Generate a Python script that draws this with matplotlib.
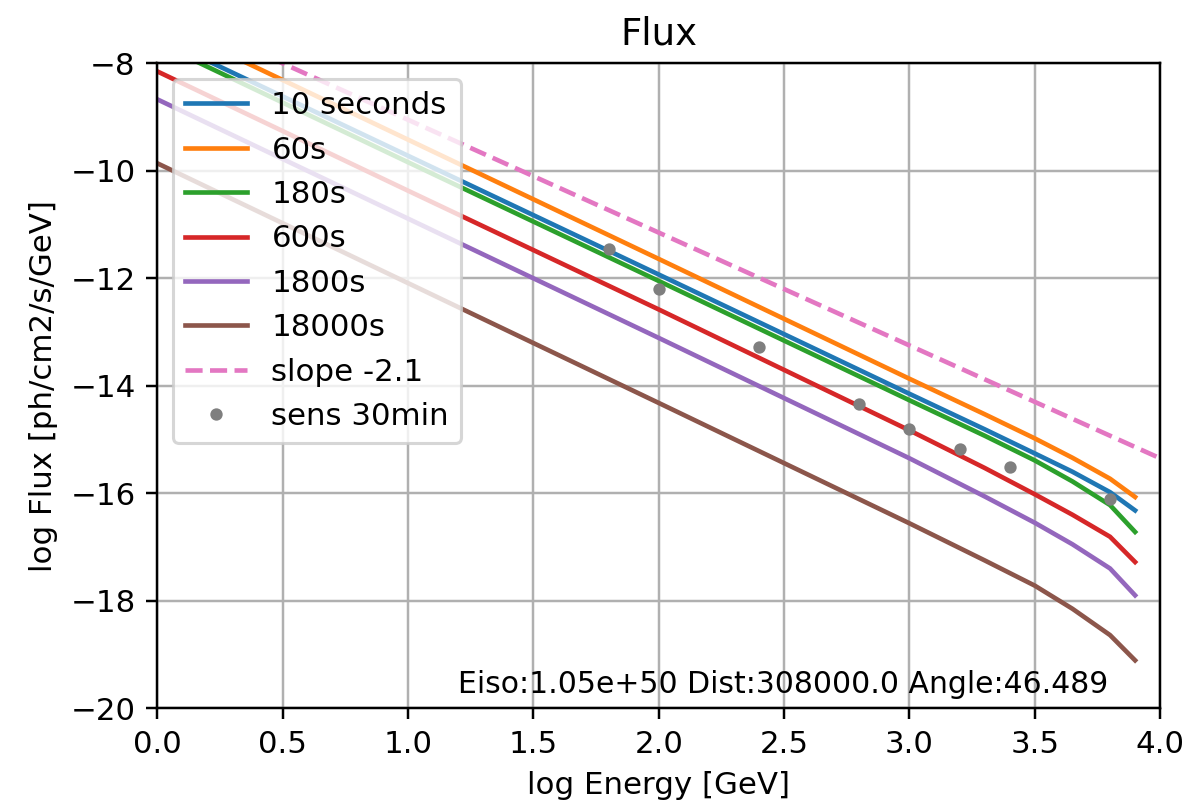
import matplotlib
matplotlib.use('Agg')
import matplotlib.pyplot as plt

# log energy grid of the light curves
logE = [0.0, 1.0, 2.0, 3.0, 3.3, 3.5, 3.65, 3.8, 3.9]

flux_10s = [-7.51, -9.72, -11.93, -14.15, -14.81, -15.26, -15.60, -15.98, -16.32]
flux_60s = [-7.20, -9.42, -11.64, -13.87, -14.53, -14.98, -15.34, -15.73, -16.07]
flux_180s = [-7.62, -9.84, -12.05, -14.27, -14.93, -15.39, -15.78, -16.22, -16.72]
flux_600s = [-8.15, -10.37, -12.58, -14.83, -15.53, -16.02, -16.40, -16.81, -17.28]
flux_1800s = [-8.67, -10.89, -13.11, -15.35, -16.06, -16.55, -16.95, -17.40, -17.90]
flux_18000s = [-9.86, -12.09, -14.32, -16.56, -17.25, -17.72, -18.15, -18.64, -19.11]

labels = ['10 seconds', '60s', '180s', '600s', '1800s', '18000s']

# reference power law, slope -2.1
slope_x = [0.0, 4.0]
slope_y = [-6.95, -15.35]

# sensitivity 30 min
sens_x = [1.8, 2.0, 2.4, 2.8, 3.0, 3.2, 3.4, 3.8]
sens_y = [-11.46, -12.19, -13.28, -14.34, -14.80, -15.18, -15.51, -16.11]

dpi = 222
fig = plt.figure(figsize=(1201 / dpi, 802 / dpi), dpi=dpi)
ax = fig.add_axes([0.131, 0.117, 0.835, 0.804])

for f, lab in zip([flux_10s, flux_60s, flux_180s, flux_600s, flux_1800s, flux_18000s], labels):
    ax.plot(logE, f, label=lab)
ax.plot(slope_x, slope_y, '--', label='slope -2.1')
ax.plot(sens_x, sens_y, '.', label='sens 30min')

ax.text(1.2, -19.72, 'Eiso:1.05e+50 Dist:308000.0 Angle:46.489', fontsize=9.7)

ax.set_xlim(0, 4)
ax.set_ylim(-20, -8)
ax.grid(True)
ax.set_xlabel('log Energy [GeV]')
ax.set_ylabel('log Flux [ph/cm2/s/GeV]')
ax.set_title('Flux')
ax.legend(loc='upper left')

fig.savefig('out.png', dpi=dpi)
